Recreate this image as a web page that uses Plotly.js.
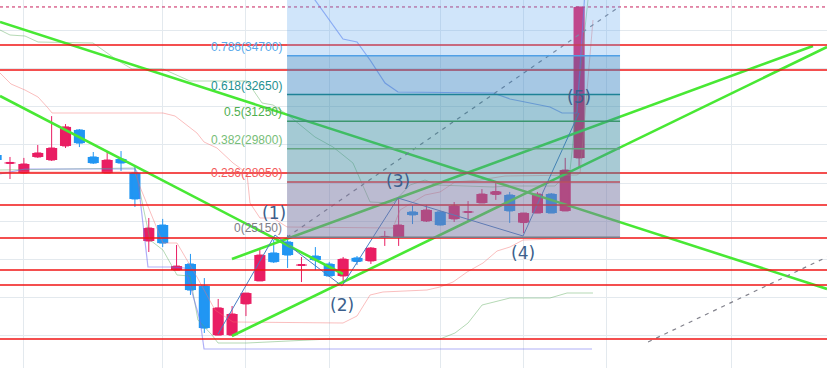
<!DOCTYPE html>
<html><head><meta charset="utf-8">
<script src="https://cdn.plot.ly/plotly-3.0.1.min.js"></script>
<style>html,body{margin:0;padding:0;background:#fff}#chart{width:827px;height:368px}</style>
</head><body><div id="chart"></div>
<script>
// ---- candles (bar index, prices) ----
const candleIdx = [-1,0,1,2,3,4,5,6,7,8,9,10,11,12,13,14,15,16,17,18,19,20,21,22,23,24,25,26,27,28,29,30,31,32,33,34,35,36,37,38,39,40,41];
const opens  = [29470,29030,28530,29370,29210,29950,30790,29370,28530,29260,28530,24950,25790,23420,23740,22580,20000,20000,21640,22850,24320,24900,23660,24160,23740,23110,24060,23900,25130,25160,26480,26000,26480,26110,26450,26950,27400,27370,25920,26420,27420,26530,29320];
const highs  = [29630,29370,29320,30000,31520,31100,30840,29630,29630,29680,28840,26160,26110,24740,24270,23000,21900,21530,22210,24530,25000,25270,24110,24630,23850,24110,24160,24630,25480,27210,26840,26840,26530,27000,27050,27680,28000,27530,26420,27530,27470,29320,37260];
const lows   = [29100,28210,28500,29320,29160,29840,29890,29000,28530,28630,26740,24370,24630,23420,22110,20110,20000,19950,21000,22850,23790,23530,22790,23420,23060,22740,23690,23740,24690,24690,25840,25950,25770,25950,25950,26950,27110,25900,25370,26420,26420,26530,28840];
const closes = [29210,29080,29000,29580,29840,30950,30100,29050,29210,29050,27160,25630,24840,23630,22370,20370,21430,21110,22210,24210,23850,24210,23710,23950,23110,24000,23870,24580,25190,25790,26320,26580,25790,26790,26500,27420,27550,26530,26420,27420,26420,28680,37260];

// ---- horizontal support / resistance levels ----
const redLevels = [35259, 33944, 28526, 26843, 25107, 23424, 22635, 19794];
const lastPrice = 37260;

// ---- fibonacci retracement ----
const fibRatios = [0, 0.236, 0.382, 0.5, 0.618, 0.786];
const fibPrices = [25150, 28050, 29800, 31250, 32650, 34700];
const fibTopPrice = 38600;
const fibStartIdx = 19.96, fibEndIdx = 43.95;
const fibLabels = ["0(25150)", "0.236(28050)", "0.382(29800)", "0.5(31250)", "0.618(32650)", "0.786(34700)"];

// ---- indicator lines ----
const lavLowX = [-0.72,1.08,9.01,9.15,9.94,11.67,12.61,13.69,13.98,41.93];
const lavLowY = [28473,28737,28737,28579,23582,23582,23529,20794,19269,19269];
const lavUpX = [21.25,21.97,23.99,25.00,25.94,27.02,27.95,34.80,36.02,38.90,39.77,40.85,41.43];
const lavUpY = [38678,37626,35575,35417,34470,33260,32787,32734,32419,31998,31682,31682,38152];
const grnUpX = [-0.72,0,1.08,2.02,5.98,7.71,8.79,11.02,12.97,17.07,18.16,18.95,20.03,21.97,23.27,24.71,25.94,27.59,28.82,29.90,30.76,34.80,36.02,39.26,40.35,41.64];
const grnUpY = [36048,35785,35732,35417,35364,34470,33997,33997,33365,33365,32208,32103,31577,30420,29894,29052,27001,26948,27895,28158,27895,27790,27842,27842,28684,37626];
const grnLowX = [-0.72,9.01,10.09,11.02,12.03,12.97,13.54,14.55,14.99,17.07,23.05,30.98,32.06,33.00,34.01,36.02,38.90,40.13,42.00];
const grnLowY = [28684,28789,25002,24476,23161,23108,20794,20005,19584,19584,19794,19794,20110,20636,21583,21951,21951,22214,22214];
const pinkUpX = [-0.72,0.07,1.08,2.02,2.74,3.03,11.02,11.89,13.47,13.98,14.91,16.07,17.07,17.29,18.01,18.95,19.96,27.59,28.10,29.90,30.98,32.06,33.86,35.66,40.85,41.07,42.00];
const pinkUpY = [33786,33208,32892,32524,31945,31682,31682,31524,30630,30156,29841,29052,28526,26948,26159,26159,25686,25633,26580,27369,27527,28053,28158,28368,28421,28526,36574];
const pinkLowX = [-0.72,9.01,9.37,10.59,11.02,12.03,13.47,14.77,16.07,23.99,25.00,25.94,26.87,30.04,30.98,31.92,32.93,34.08,35.09,36.02,36.96,41.79];
const pinkLowY = [28579,28579,27790,25686,24844,24844,23056,21320,20689,20636,21004,22109,22267,22372,22530,22793,23319,23792,24423,24634,25002,25107];

// ---- trend lines (green) ----
const trendLines = [
  {x:[-0.72,58.86], y:[36469,22425]},
  {x:[-0.72,23.99], y:[32576,23214]},
  {x:[15.99,57.85], y:[24002,35206]},
  {x:[15.99,58.86], y:[19952,35154]}
];
// ---- dashed lines ----
const dashLines = [
  {x:[19.96,43.95], y:[25150,37300]},
  {x:[45.97,58.86], y:[19637,24108]}
];
// ---- Elliott wave ----
const waveX = [14.99,19.09,23.92,27.95,36.96,40.99];
const waveY = [20057,25265,22582,27211,25212,31682];
const waveLabelX = [19.02,23.92,27.95,36.96,40.99];
const waveLabelY = [26420,21583,28105,24318,32524];
const waveLabels = ["(1)","(2)","(3)","(4)","(5)"];

const gridIdx = [1,11,17,23,31,37,43,52];

const UP = '#e91e63', DOWN = '#2196f3';
const traces = [];
function line(x,y,color,width,dash){traces.push({type:'scatter',mode:'lines',x:x,y:y,line:{color:color,width:width,dash:dash||'solid'},hoverinfo:'skip'});}

// candle bodies as bars (wider bodies), wicks from candlestick trace
const bodyBase = opens.map((o,i)=>Math.min(o,closes[i]));
const bodyLen = opens.map((o,i)=>Math.max(Math.abs(closes[i]-o),45));
const bodyCol = opens.map((o,i)=>closes[i]>=o?UP:DOWN);
traces.push({type:'bar',x:candleIdx,base:bodyBase,y:bodyLen,width:0.8,marker:{color:bodyCol,line:{width:0}},hoverinfo:'skip'});
traces.push({type:'candlestick',x:candleIdx,open:opens,high:highs,low:lows,close:closes,
  increasing:{line:{color:UP,width:1},fillcolor:UP},
  decreasing:{line:{color:DOWN,width:1},fillcolor:DOWN},
  whiskerwidth:0,hoverinfo:'skip'});

line(pinkUpX,pinkUpY,'rgba(245,110,110,0.45)',1);
line(pinkLowX,pinkLowY,'rgba(245,110,110,0.45)',1);
line(grnUpX,grnUpY,'rgba(90,170,90,0.45)',1);
line(grnLowX,grnLowY,'rgba(90,170,90,0.45)',1);
line(lavLowX,lavLowY,'rgba(110,110,240,0.55)',1.2);
line(lavUpX,lavUpY,'rgba(90,120,240,0.6)',1.2);

trendLines.forEach(t=>line(t.x,t.y,'rgb(72,232,52)',2.6));
dashLines.forEach(t=>line(t.x,t.y,'rgb(130,130,140)',1.2,'4px,5px'));
line(waveX,waveY,'rgb(70,125,195)',1);

const shapes = [];
redLevels.forEach(p=>shapes.push({type:'line',layer:'above',xref:'paper',x0:0,x1:1,yref:'y',y0:p,y1:p,line:{color:'rgb(240,20,20)',width:1.4}}));
shapes.push({type:'line',layer:'above',xref:'paper',x0:0,x1:1,yref:'y',y0:lastPrice,y1:lastPrice,line:{color:'rgb(200,30,90)',width:1,dash:'dot'}});

const zoneColors = ['rgba(119,119,163,0.5)','rgba(62,137,159,0.45)','rgba(53,137,159,0.45)','rgba(44,133,166,0.45)','rgba(57,133,195,0.45)','rgba(100,170,240,0.3)'];
const lineColors = ['rgb(120,123,134)','rgb(185,80,95)','rgb(100,165,130)','rgb(60,150,110)','rgb(30,130,150)','rgb(80,160,230)'];
const labelColors = ['rgb(125,125,135)','rgb(242,90,90)','rgb(120,190,120)','rgb(80,175,80)','rgb(30,145,145)','rgb(90,170,235)'];
for(let i=0;i<fibPrices.length;i++){
  const top = i<fibPrices.length-1 ? fibPrices[i+1] : fibTopPrice;
  shapes.push({type:'rect',layer:'above',xref:'x',yref:'y',x0:fibStartIdx,x1:fibEndIdx,y0:fibPrices[i],y1:top,fillcolor:zoneColors[i],line:{width:0}});
}
for(let i=0;i<fibPrices.length;i++){
  shapes.push({type:'line',layer:'above',xref:'x',yref:'y',x0:fibStartIdx,x1:fibEndIdx,y0:fibPrices[i],y1:fibPrices[i],line:{color:lineColors[i],width:1.5}});
}

const annotations = [];
for(let i=0;i<fibPrices.length;i++){
  annotations.push({xref:'x',yref:'y',x:fibStartIdx,y:fibPrices[i],xanchor:'right',yanchor:'bottom',xshift:-4,yshift:1,borderpad:0,showarrow:false,text:fibLabels[i],font:{family:'Liberation Sans, Arial, sans-serif',size:12,color:labelColors[i]}});
}
for(let i=0;i<waveLabels.length;i++){
  annotations.push({xref:'x',yref:'y',x:waveLabelX[i],y:waveLabelY[i],xanchor:'center',yanchor:'middle',borderpad:0,showarrow:false,text:waveLabels[i],font:{family:'DejaVu Sans, sans-serif',size:17,color:'rgb(60,95,140)'}});
}

const layout = {
  width:827,height:368,margin:{l:0,r:0,t:0,b:0},
  paper_bgcolor:'#ffffff',plot_bgcolor:'#ffffff',showlegend:false,hovermode:false,
  barmode:'overlay',
  xaxis:{range:[-0.72,58.86],tickvals:gridIdx,showticklabels:false,ticks:'',showgrid:true,gridcolor:'#e3e9ee',zeroline:false,showline:false,rangeslider:{visible:false},fixedrange:true},
  yaxis:{range:[18269,37626],tick0:0,dtick:2000,showticklabels:false,ticks:'',showgrid:true,gridcolor:'#e3e9ee',zeroline:false,showline:false,fixedrange:true},
  shapes:shapes,annotations:annotations
};
Plotly.newPlot('chart',traces,layout,{staticPlot:true,displayModeBar:false});
</script></body></html>
